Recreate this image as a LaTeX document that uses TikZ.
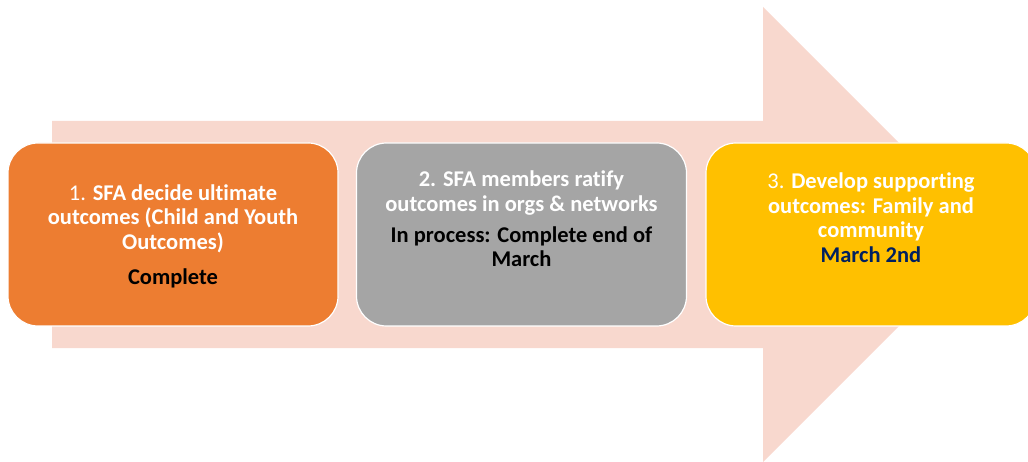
\documentclass[tikz,border=0pt]{standalone}
\usepackage{fontspec}
\setmainfont[Ligatures=NoCommon]{Carlito}
\definecolor{arrowfill}{HTML}{F8D8CE}
\definecolor{boxorange}{HTML}{ED7D31}
\definecolor{boxgray}{HTML}{A5A5A5}
\definecolor{boxgold}{HTML}{FFC000}
\definecolor{navy}{HTML}{002060}
\begin{document}
\begin{tikzpicture}[x=1pt,y=-1pt,
  stepbox/.style={draw=white, line width=1.2pt, rounded corners=30pt, minimum width=330pt, minimum height=183pt, inner sep=0pt},
  txt/.style={align=center, inner sep=0pt, text=white, font=\fontsize{22.5}{24.5}\selectfont}]
\useasboundingbox (0,0) rectangle (1028,462);
\fill[arrowfill] (52,121) -- (763,121) -- (763,7) -- (990.5,234.5) -- (763,462) -- (763,348) -- (52,348) -- cycle;
\node[stepbox, fill=boxorange] (b1) at (173,234.5) {};
\node[stepbox, fill=boxgray] (b2) at (521.5,234.5) {};
\node[stepbox, fill=boxgold] (b3) at (871,234.5) {};
\node[txt] (t1) at (173,236) {1. \textbf{SFA decide ultimate}\\ \textbf{outcomes (Child and Youth}\\ \textbf{Outcomes)}\\[10.5pt] {\color{black}\textbf{Complete}}};
\node[txt] (t2) at (521.5,219) {\textbf{2. SFA members ratify}\\ \textbf{outcomes in orgs \& networks}\\[6.5pt] {\color{black}\textbf{In process: Complete end of}}\\ {\color{black}\textbf{March}}};
\node[txt] (t3) at (871,217.5) {3. \textbf{Develop supporting}\\ \textbf{outcomes: Family and}\\ \textbf{community}\\ {\color{navy}\textbf{March 2nd}}};
\end{tikzpicture}
\end{document}
